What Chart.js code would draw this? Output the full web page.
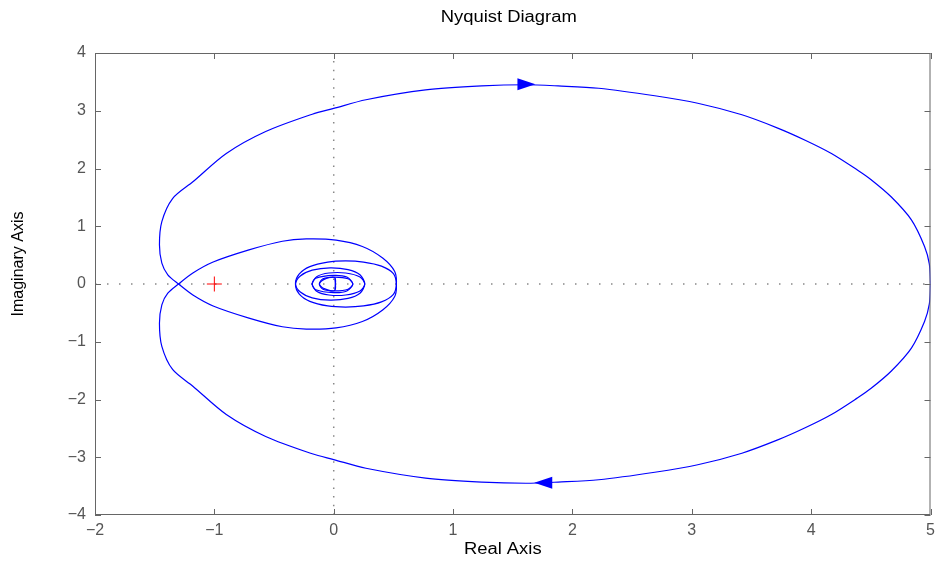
<!DOCTYPE html>
<html>
<head>
<meta charset="utf-8">
<title>Nyquist Diagram</title>
<script src="https://cdn.jsdelivr.net/npm/chart.js@4.4.1/dist/chart.umd.min.js"></script>
<style>
    html, body { margin: 0; padding: 0; background: #fff; }
</style>
</head>
<body>
<canvas id="nyquist" width="939" height="563"></canvas>
<script>
// positive frequency branch (w = 0 .. inf)
const pos_re = [5.0, 4.99, 4.95, 4.84, 4.67, 4.50, 4.39, 4.17, 3.95, 3.72, 3.42, 3.05, 2.69, 2.22, 1.88, 1.61, 1.24, 0.77, 0.27, 0.0, -0.18, -0.57, -0.90, -1.18, -1.35, -1.44, -1.46, -1.44, -1.39, -1.30,
    -1.18, -1.01, -0.71, -0.43, -0.23, 0.02, 0.24, 0.41, 0.51, 0.525,
    0.50, 0.40, 0.25, 0.10, -0.05, -0.20, -0.29, -0.32,
    -0.28, -0.18, -0.03, 0.12, 0.22, 0.26,
    0.22, 0.10, -0.04, -0.14, -0.18,
    -0.15, 0.0, 0.11, 0.16,
    0.12, 0.01, -0.09, -0.12,
    -0.08, 0.01, 0.01];
const pos_im = [0, -0.35, -0.65, -1.11, -1.51, -1.81, -1.97, -2.26, -2.49, -2.70, -2.93, -3.13, -3.26, -3.39, -3.43, -3.45, -3.43, -3.36, -3.19, -3.04, -2.94, -2.64, -2.26, -1.77, -1.48, -1.08, -0.68, -0.36, -0.16, 0,
    0.19, 0.38, 0.59, 0.74, 0.78, 0.76, 0.65, 0.45, 0.22, 0,
    -0.18, -0.31, -0.38, -0.40, -0.38, -0.30, -0.17, 0,
    0.14, 0.24, 0.28, 0.25, 0.16, 0,
    -0.12, -0.19, -0.19, -0.13, 0,
    0.10, 0.15, 0.12, 0,
    -0.09, -0.12, -0.09, 0,
    0.08, 0.11, -0.10];

// critical point -1 + 0j
const crit_re = [-1];
const crit_im = [0];

// direction arrows (tip position, +1 = pointing right, -1 = left)
const arrow_re = [1.69, 1.68];
const arrow_im = [3.46, -3.44];
const arrow_dir = [1, -1];

// axis ranges
const x_range = [-2, 5];
const y_range = [-4, 4];

const tick_len = 6;
const font_name = "'Liberation Sans', Arial, sans-serif";


function pairs(re, im, sign) {
    let out = [];
    for (let i = 0; i < re.length; i++) {
        out.push({x: re[i], y: sign * im[i]});
    }
    return out;
}

function minusSign(v) {
    return String(v).replace("-", "\u2212");
}

const frame_plugin = {
    id: "frame",
    afterDatasetsDraw(chart) {
        let ctx = chart.ctx;
        let a = chart.chartArea;
        let xs = chart.scales.x;
        let ys = chart.scales.y;
        ctx.save();
        // direction arrows
        ctx.fillStyle = "#0000ff";
        for (let i = 0; i < arrow_re.length; i++) {
            let tx = xs.getPixelForValue(arrow_re[i]);
            let ty = ys.getPixelForValue(arrow_im[i]);
            let d = arrow_dir[i];
            ctx.beginPath();
            ctx.moveTo(tx, ty);
            ctx.lineTo(tx - d * 18, ty - 6);
            ctx.lineTo(tx - d * 18, ty + 6);
            ctx.closePath();
            ctx.fill();
        }
        // box and inward ticks
        ctx.strokeStyle = "#666";
        ctx.lineWidth = 1;
        ctx.strokeRect(a.left + 0.5, a.top + 0.5, a.right - a.left - 1, a.bottom - a.top - 1);
        ctx.beginPath();
        xs.ticks.forEach(function(t) {
            let px = Math.round(xs.getPixelForValue(t.value)) + 0.5;
            ctx.moveTo(px, a.bottom);
            ctx.lineTo(px, a.bottom - tick_len);
            ctx.moveTo(px, a.top);
            ctx.lineTo(px, a.top + tick_len);
        });
        ys.ticks.forEach(function(t) {
            let py = Math.round(ys.getPixelForValue(t.value)) + 0.5;
            ctx.moveTo(a.left, py);
            ctx.lineTo(a.left + tick_len, py);
            ctx.moveTo(a.right, py);
            ctx.lineTo(a.right - tick_len, py);
        });
        ctx.stroke();
        // titles
        ctx.fillStyle = "#000";
        ctx.font = "16px " + font_name;
        ctx.textAlign = "center";
        ctx.textBaseline = "middle";
        let cx = (a.left + a.right) / 2;
        ctx.save();
        ctx.translate(cx - 4, 18);
        ctx.scale(1.15, 1);
        ctx.fillText("Nyquist Diagram", 0, 0);
        ctx.restore();
        ctx.save();
        ctx.translate(cx - 10, 550);
        ctx.scale(1.15, 1);
        ctx.fillText("Real Axis", 0, 0);
        ctx.restore();
        ctx.save();
        ctx.translate(19, 264);
        ctx.rotate(-Math.PI / 2);
        ctx.fillText("Imaginary Axis", 0, 0);
        ctx.restore();
        ctx.restore();
    }
};

let ctx = document.getElementById("nyquist").getContext("2d");
let chart = new Chart(ctx, {
    type: "scatter",
    data: {
        datasets: [
            {
                data: pairs(crit_re, crit_im, 1),
                pointStyle: "cross",
                pointRadius: 7.5,
                borderColor: "#ff0000",
                backgroundColor: "#ff0000",
                borderWidth: 1
            },
            {
                data: pairs(pos_re, pos_im, 1),
                showLine: true,
                pointRadius: 0,
                borderColor: "#0000ff",
                borderWidth: 1.2,
                tension: 0.3
            },
            {
                data: pairs(pos_re, pos_im, -1),
                showLine: true,
                pointRadius: 0,
                borderColor: "#0000ff",
                borderWidth: 1.2,
                tension: 0.3
            },
            {
                data: [{x: x_range[0], y: 0}, {x: x_range[1], y: 0}],
                showLine: true,
                pointRadius: 0,
                borderColor: "#888",
                borderWidth: 1.5,
                borderDash: [1.5, 10.5]
            },
            {
                data: [{x: 0, y: y_range[0]}, {x: 0, y: y_range[1]}],
                showLine: true,
                pointRadius: 0,
                borderColor: "#888",
                borderWidth: 1.5,
                borderDash: [1.5, 7.2]
            }
        ]
    },
    options: {
        responsive: false,
        animation: false,
        layout: {
            padding: {top: 53, right: 6, left: 0, bottom: 0}
        },
        plugins: {
            legend: {display: false},
            tooltip: {enabled: false},
            title: {display: false}
        },
        scales: {
            x: {
                type: "linear",
                min: x_range[0],
                max: x_range[1],
                grid: {display: false, drawTicks: false},
                border: {display: false},
                ticks: {
                    stepSize: 1,
                    padding: 6,
                    color: "#555",
                    font: {family: font_name, size: 16},
                    callback: minusSign
                },
                afterFit: function(axis) {
                    axis.height = 48;
                    axis.paddingLeft = 0;
                    axis.paddingRight = 0;
                }
            },
            y: {
                type: "linear",
                min: y_range[0],
                max: y_range[1],
                grid: {display: false, drawTicks: false},
                border: {display: false},
                ticks: {
                    stepSize: 1,
                    padding: 9,
                    color: "#555",
                    font: {family: font_name, size: 16},
                    callback: minusSign
                },
                afterFit: function(axis) {
                    axis.width = 95;
                    axis.paddingTop = 0;
                    axis.paddingBottom = 0;
                }
            }
        }
    },
    plugins: [frame_plugin]
});
</script>
</body>
</html>
